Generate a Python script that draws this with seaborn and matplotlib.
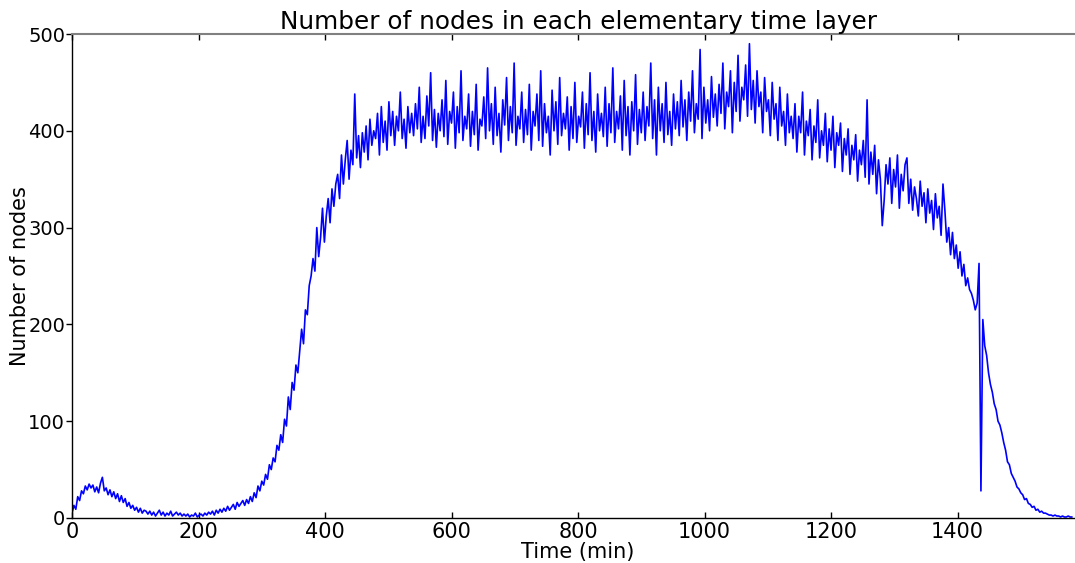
import numpy as np
import pandas as pd
import matplotlib
matplotlib.use("Agg")
import matplotlib.pyplot as plt
import seaborn as sns

# number of nodes per elementary time layer, every 3 minutes
nodes_night = [
    5, 13, 9, 22, 18, 28, 25, 33, 29, 35, 31, 34, 27, 32, 26, 36, 42, 28, 31, 24,
    29, 22, 27, 20, 25, 17, 23, 16, 20, 12, 16, 10, 13, 8, 11, 6, 10, 5, 8, 7,
    4, 7, 3, 6, 2, 5, 8, 3, 6, 2, 5, 3, 7, 2, 4, 6, 3, 5, 2, 4,
    2, 4, 1, 3, 2, 5, 1, 3, 4, 2, 5, 3, 6, 4, 7, 3, 8, 5, 9, 6,
    10, 7, 12, 8, 11, 14, 9, 16, 12, 15, 18, 13, 19, 15, 22, 17, 26, 21, 33, 28,
]
nodes_rise = [
    38, 34, 45, 40, 55, 50, 62, 58, 75, 70, 86, 78, 102, 95, 125, 112, 140, 132, 158, 150,
    172, 195, 180, 215, 210, 240, 250, 268, 255, 300, 270, 290, 320, 285, 312, 330, 305, 340, 322, 345,
    355, 330, 375, 345, 370, 390, 350, 380, 365, 438, 372, 395, 362, 398, 378, 405, 370, 412, 385, 400,
    392, 418, 375, 425, 388, 410, 380, 430, 395, 420, 385, 415, 400, 440, 392, 412, 382, 425, 398, 418,
]
nodes_day = [
    395, 428, 402, 445, 388, 415, 392, 436, 405, 460, 390, 422, 383, 418, 400, 432, 394, 452, 386, 420,
    408, 440, 382, 425, 398, 462, 390, 415, 402, 438, 384, 420, 396, 448, 380, 412, 405, 435, 392, 465,
    400, 428, 386, 445, 395, 418, 378, 432, 406, 455, 390, 425, 398, 470, 385, 415, 402, 440, 388, 422,
    396, 448, 380, 420, 405, 438, 390, 462, 384, 428, 398, 415, 375, 442, 400, 430, 386, 455, 395, 418,
    402, 435, 380, 425, 392, 450, 388, 415, 404, 440, 382, 428, 396, 460, 390, 420, 378, 438, 400, 418,
    394, 445, 384, 428, 398, 465, 388, 420, 402, 436, 380, 452, 395, 425, 375, 430, 400, 458, 386, 422,
    398, 440, 390, 425, 405, 470, 392, 432, 375, 445, 400, 428, 388, 450, 396, 420, 385, 438, 402, 430,
    395, 452, 404, 432, 390, 440, 410, 462, 398, 428, 412, 484, 392, 445, 408, 432, 400, 456, 414, 438,
    405, 448, 418, 470, 402, 440, 425, 462, 398, 450, 420, 478, 410, 445, 432, 468, 415, 490, 422, 452,
    408, 462, 425, 440, 398, 455, 420, 432, 395, 450, 412, 428, 390, 445, 405, 420, 385, 438, 398, 415,
]
nodes_fall = [
    392, 428, 378, 415, 398, 440, 375, 410, 395, 422, 370, 405, 388, 432, 372, 400, 385, 418, 368, 402,
    380, 415, 362, 398, 385, 408, 358, 392, 375, 402, 355, 385, 370, 396, 348, 380, 365, 390, 352, 432,
    345, 378, 355, 385, 335, 370, 350, 302, 328, 365, 345, 372, 325, 360, 342, 375, 320, 355, 338, 365,
    372, 325, 350, 318, 342, 330, 312, 348, 322, 336, 305, 340, 315, 328, 298, 335, 310, 322, 292, 345,
    318, 285, 300, 272, 295, 268, 282, 258, 275, 250, 262, 240, 248, 236, 232, 225, 215, 222, 263, 28,
    205, 178, 168, 150, 138, 130, 118, 112, 100, 96, 88, 78, 70, 58, 55, 46, 42, 38, 32, 30,
    26, 24, 19, 20, 15, 14, 11, 12, 8, 9, 6, 7, 5, 5, 4, 3, 3, 2, 3, 2,
    2, 1, 2, 1, 1, 2, 1, 1,
]

nodes = nodes_night + nodes_rise + nodes_day + nodes_fall
time_min = np.arange(len(nodes)) * 3

x_ticks = [0, 200, 400, 600, 800, 1000, 1200, 1400]
y_ticks = [0, 100, 200, 300, 400, 500]

df = pd.DataFrame({"time": time_min, "nodes": nodes})

sns.set_theme(style="white")
plt.rcParams["font.family"] = ["DejaVu Sans"]
plt.rcParams["text.color"] = "black"
plt.rcParams["axes.labelcolor"] = "black"
plt.rcParams["xtick.color"] = "black"
plt.rcParams["ytick.color"] = "black"

fig = plt.figure(figsize=(10.75, 5.63), dpi=100)
# the original picture is cropped on the right: the axes run out to x = 1600
ax = fig.add_axes([0.067, 0.080, 0.9414, 0.8596])

sns.lineplot(data=df, x="time", y="nodes", color="#0000ff", linewidth=1.2,
             estimator=None, ax=ax)

ax.set_xlim(0, 1600)
ax.set_ylim(0, 500)
ax.set_xticks(x_ticks)
ax.set_yticks(y_ticks)

ax.set_title("Number of nodes in each elementary time layer", fontsize=17.8, pad=3)
ax.set_xlabel("Time (min)", fontsize=15, labelpad=0)
ax.set_ylabel("Number of nodes", fontsize=15)
ax.yaxis.set_label_coords(-0.042, 0.5)

for side in ["left", "bottom", "right"]:
    ax.spines[side].set_color("black")
    ax.spines[side].set_linewidth(1.0)
ax.spines["top"].set_color("#808080")
ax.spines["top"].set_linewidth(1.5)

ax.tick_params(axis="x", which="both", direction="in", top=True, bottom=True,
               length=4, width=1, labelsize=15, pad=3)
ax.tick_params(axis="y", which="both", direction="out", left=True, right=False,
               length=4, width=1, labelsize=14, pad=1)

fig.savefig("out.png", dpi=100)
